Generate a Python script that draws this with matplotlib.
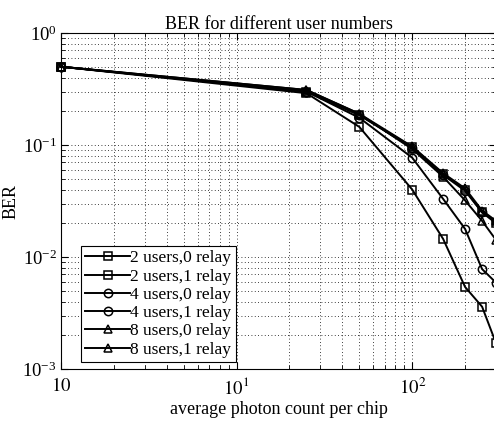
import matplotlib
matplotlib.use("Agg")
import matplotlib.pyplot as plt
from matplotlib.ticker import LogLocator, FixedLocator, FixedFormatter, NullFormatter

plt.rcParams['font.family'] = ['Liberation Serif', 'DejaVu Serif']
plt.rcParams['mathtext.fontset'] = 'stix'

photons = [1, 25, 50, 100, 150, 200, 250, 300]
ber_2u_0r = [0.5, 0.29, 0.145, 0.040, 0.0145, 0.0054, 0.0036, 0.0017]
ber_2u_1r = [0.5, 0.30, 0.185, 0.096, 0.055, 0.040, 0.025, 0.020]
ber_4u_0r = [0.5, 0.30, 0.175, 0.077, 0.033, 0.0178, 0.0078, 0.0059]
ber_4u_1r = [0.5, 0.30, 0.185, 0.094, 0.054, 0.039, 0.025, 0.021]
ber_8u_0r = [0.5, 0.31, 0.19, 0.092, 0.052, 0.032, 0.021, 0.0142]
ber_8u_1r = [0.5, 0.31, 0.19, 0.097, 0.056, 0.041, 0.026, 0.021]

series = [
    (ber_2u_0r, 's', '2 users,0 relay'),
    (ber_2u_1r, 's', '2 users,1 relay'),
    (ber_4u_0r, 'o', '4 users,0 relay'),
    (ber_4u_1r, 'o', '4 users,1 relay'),
    (ber_8u_0r, '^', '8 users,0 relay'),
    (ber_8u_1r, '^', '8 users,1 relay'),
]

xtick_vals = [1, 10, 100]
xtick_labels = ['$10$', '$10^{1}$', '$10^{2}$']

fig = plt.figure(figsize=(4.94, 4.25), dpi=100)
W, H = 494, 425
left, right, top, bottom = 61, 496, 33, 369
ax = fig.add_axes([left / W, 1 - bottom / H, (right - left) / W, (bottom - top) / H])

for vals, m, lab in series:
    ax.plot(photons, vals, color='black', marker=m, markersize=6,
            markerfacecolor='none', markeredgecolor='black',
            markeredgewidth=1.1, linewidth=1.4, label=lab, clip_on=False)

ax.set_xscale('log')
ax.set_yscale('log')
ax.set_xlim(1, 300)
ax.set_ylim(1e-3, 1)
ax.xaxis.set_major_locator(FixedLocator(xtick_vals))
ax.xaxis.set_major_formatter(FixedFormatter(xtick_labels))
ax.xaxis.set_minor_locator(LogLocator(base=10, subs=range(2, 10)))
ax.xaxis.set_minor_formatter(NullFormatter())
ax.yaxis.set_minor_locator(LogLocator(base=10, subs=range(2, 10)))
ax.yaxis.set_minor_formatter(NullFormatter())

ax.grid(True, which='both', linestyle=(0, (1, 3)), color='black', linewidth=0.6)
ax.tick_params(which='both', direction='in', top=True, right=True, labelsize=13.5)
ax.tick_params(axis='x', which='major', pad=6)
ax.tick_params(axis='y', which='major', pad=3)
ax.tick_params(which='major', length=5)
ax.tick_params(which='minor', length=3)
for s in ax.spines.values():
    s.set_linewidth(0.8)

ax.set_title('BER for different user numbers', fontsize=13, pad=3)
ax.set_xlabel('average photon count per chip', fontsize=13, labelpad=2)
ax.set_ylabel('BER', fontsize=13, labelpad=2)

leg = ax.legend(loc='lower left', bbox_to_anchor=(20 / (right - left), 7 / (bottom - top)),
                fontsize=12.5, frameon=True, fancybox=False, edgecolor='black',
                framealpha=1, borderpad=0.25, labelspacing=0.12, handlelength=2.6,
                handletextpad=0.0, borderaxespad=0.0)
leg.get_frame().set_linewidth(0.8)

fig.savefig('out.png', dpi=100)
